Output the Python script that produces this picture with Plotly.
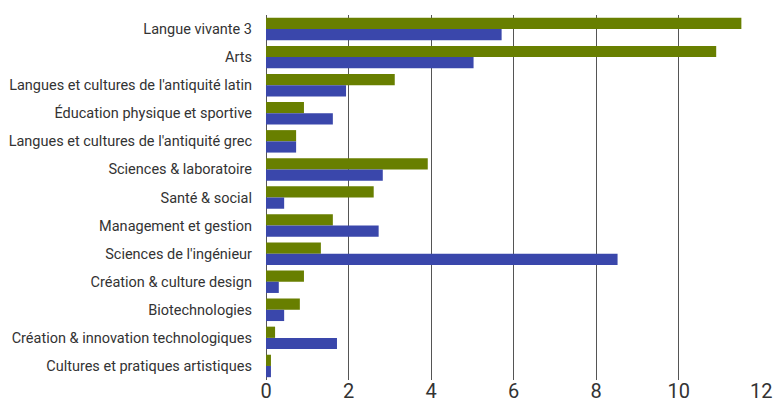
import plotly.graph_objects as go

categories = [
    "Langue vivante 3",
    "Arts",
    "Langues et cultures de l'antiquité latin",
    "Éducation physique et sportive",
    "Langues et cultures de l'antiquité grec",
    "Sciences & laboratoire",
    "Santé & social",
    "Management et gestion",
    "Sciences de l'ingénieur",
    "Création & culture design",
    "Biotechnologies",
    "Création & innovation technologiques",
    "Cultures et pratiques artistiques",
]
green_values = [11.52, 10.91, 3.12, 0.92, 0.73, 3.92, 2.61, 1.62, 1.33, 0.92, 0.82, 0.22, 0.12]
blue_values = [5.71, 5.03, 1.94, 1.62, 0.73, 2.83, 0.44, 2.73, 8.52, 0.31, 0.44, 1.72, 0.12]
x_ticks = [0, 2, 4, 6, 8, 10, 12]

font_family = "Roboto, Liberation Sans, sans-serif"

fig = go.Figure()
fig.add_trace(go.Bar(y=categories, x=green_values, orientation="h",
                     marker=dict(color="#687f00", line=dict(width=0)), name="A"))
fig.add_trace(go.Bar(y=categories, x=blue_values, orientation="h",
                     marker=dict(color="#3a47ab", line=dict(width=0)), name="B"))

fig.update_layout(
    width=774, height=405,
    margin=dict(l=266, r=12, t=15, b=25),
    barmode="group", bargap=0.2, bargroupgap=0,
    showlegend=False,
    plot_bgcolor="white", paper_bgcolor="white",
    font=dict(family=font_family, color="#333333"),
)
fig.update_xaxes(range=[0, 12.02], tickvals=x_ticks, showgrid=True, gridcolor="#555555",
                 gridwidth=1, zeroline=True, zerolinecolor="#555555", zerolinewidth=1,
                 tickfont=dict(size=20, color="#333333"), ticks="", showline=False,
                 ticklabelstandoff=-3, automargin=False)
fig.update_yaxes(autorange="reversed", tickfont=dict(size=14.5, color="#333333"),
                 ticks="", showgrid=False, ticklabelstandoff=13, automargin=False)

fig.write_html(
    "out.html",
    config={"displayModeBar": False},
    post_script="document.body.style.margin='0';document.body.style.overflow='hidden';",
)
